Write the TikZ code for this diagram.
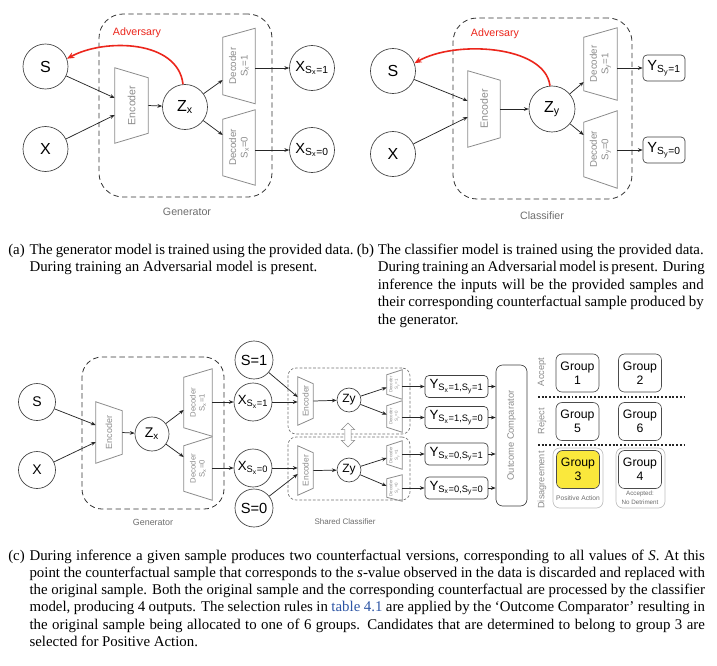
\documentclass[tikz,border=0pt]{standalone}
\usepackage{fontspec}
\setmainfont{Liberation Serif}
\newfontfamily\dfont{Liberation Sans}
\usetikzlibrary{arrows.meta,calc,shapes.arrows}
\definecolor{tgray}{RGB}{140,140,140}
\definecolor{lgray}{RGB}{110,110,110}
\definecolor{gyellow}{RGB}{250,232,60}
\definecolor{linkblue}{RGB}{45,85,165}
\definecolor{advred}{RGB}{236,38,28}
\newcommand{\fsz}[2]{\fontsize{#1}{#2}\selectfont}
% encoder: tall left side, short right side
\newcommand{\enctrap}[8]{%
  \node[inner sep=0pt, minimum width=#4*0.75pt, minimum height=#5*0.75pt] (#1) at (#2,#3) {};
  \draw[trapline] (#1.north west) -- ([yshift={-(#5-#6)*0.375pt}]#1.north east)
     -- ([yshift={(#5-#6)*0.375pt}]#1.south east) -- (#1.south west) -- cycle;
  \node[traptext, font=#7] (#1-t) at (#1.center) {#8};
}
% decoder: short left side, tall right side
\newcommand{\dectrap}[8]{%
  \node[inner sep=0pt, minimum width=#4*0.75pt, minimum height=#5*0.75pt] (#1) at (#2,#3) {};
  \draw[trapline] ([yshift={-(#5-#6)*0.375pt}]#1.north west) -- (#1.north east)
     -- (#1.south east) -- ([yshift={(#5-#6)*0.375pt}]#1.south west) -- cycle;
  \node[traptext, font=#7] (#1-t) at (#1.center) {#8};
}
\tikzset{
  circ/.style={circle, draw=black!75, line width=0.5pt, inner sep=0pt, minimum size=#1*1.5pt, text=black},
  arr/.style={-{Stealth[length=3.6pt,width=2.8pt]}, line width=0.55pt, black!85},
  advarrow/.style={-{Stealth[length=5.5pt,width=4.5pt]}, line width=1.2pt, advred},
  trapline/.style={draw=tgray, line width=0.6pt},
  traptext/.style={rotate=90, text=tgray, align=center, inner sep=0pt},
  bigbox/.style={draw=black!80, line width=0.6pt, dash pattern=on 4pt off 2.6pt, rounded corners=#1, inner sep=0pt},
  clsbox/.style={draw=black!55, line width=0.5pt, dash pattern=on 2pt off 1.4pt, rounded corners=6pt, inner sep=0pt},
  ybox/.style={draw=black!75, line width=0.5pt, rounded corners=3pt, inner sep=0pt},
  gbox/.style={draw=black!70, line width=0.5pt, rounded corners=4.5pt, inner sep=0pt, align=center,
     minimum width=43*0.75pt, minimum height=38*0.75pt, font=\dfont\fsz{9.2}{10.6}},
  obox/.style={draw=black!25, line width=0.5pt, rounded corners=5pt, inner sep=0pt},
  glabel/.style={text=lgray, inner sep=0pt},
  rowlab/.style={rotate=90, text=tgray, inner sep=0pt, font=\dfont\fsz{6.9}{8}},
  capl/.style={anchor=base west, inner sep=0pt, font=\fsz{11.15}{13}},
}
\begin{document}
\begin{tikzpicture}[x=0.75pt,y=-0.75pt]
\useasboundingbox (0,0) rectangle (717,665);
\fill[white] (0,0) rectangle (717,665);

% ================= (a) Generator (training) =================
\node[bigbox=18pt, minimum width=173*0.75pt, minimum height=183*0.75pt] (gen1) at (185.5,105.5) {};
\node[glabel, font=\dfont\fsz{8}{9}] (gen1l) at (187,212) {Generator};
\node[circ=22.5, font=\dfont\fsz{12}{14}] (S1) at (45.5,66.5) {S};
\node[circ=22.5, font=\dfont\fsz{12}{14}] (X1) at (45.5,149) {X};
\enctrap{enc1}{131.5}{105.5}{33}{75}{55}{\dfont\fsz{7.9}{9}}{Encoder}
\node[circ=22.5, font=\dfont\fsz{12}{14}] (Zx1) at (185,107) {Z\textsubscript{x}};
\dectrap{dec1a}{239}{66}{32}{75}{57}{\dfont\fsz{7.3}{8.6}}{Decoder\\S\textsubscript{x}=1}
\dectrap{dec1b}{239}{147.5}{32}{75}{56}{\dfont\fsz{7.3}{8.6}}{Decoder\\S\textsubscript{x}=0}
\node[circ=22.5, font=\dfont\fsz{11}{13}] (Xs1) at (312,68) {X\textsubscript{S\textsubscript{x}=1}};
\node[circ=22.5, font=\dfont\fsz{11}{13}] (Xs0) at (312,150) {X\textsubscript{S\textsubscript{x}=0}};
\draw[arr] (S1) -- ($(enc1.west)+(0,-7.5)$);
\draw[arr] (X1) -- ($(enc1.west)+(0,9.5)$);
\draw[arr] (enc1.east) -- (Zx1);
\draw[arr] (Zx1) -- ($(dec1a.west)+(0,14)$);
\draw[arr] (Zx1) -- ($(dec1b.west)+(0,-12.5)$);
\draw[arr] (dec1a.east|-Xs1) -- (Xs1);
\draw[arr] (dec1b.east|-Xs0) -- (Xs0);
\draw[advarrow] (Zx1.95) .. controls (178,40) and (105,38) .. (S1.20);
\node[text=advred, inner sep=0pt, font=\dfont\fsz{8}{9}] (adv1) at (137,33) {Adversary};

% ================= (b) Classifier (training) =================
\node[bigbox=18pt, minimum width=179*0.75pt, minimum height=181*0.75pt] (cls2) at (542.5,108.5) {};
\node[glabel, font=\dfont\fsz{8}{9}] (cls2l) at (542,216) {Classifier};
\node[circ=22.5, font=\dfont\fsz{12}{14}] (S2) at (393,71) {S};
\node[circ=22.5, font=\dfont\fsz{12}{14}] (X2) at (393,154) {X};
\enctrap{enc2}{484}{109}{32}{76}{57}{\dfont\fsz{7.9}{9}}{Encoder}
\node[circ=23, font=\dfont\fsz{12}{14}] (Zy2) at (552,109) {Z\textsubscript{y}};
\dectrap{dec2a}{600.5}{64}{33}{72}{53}{\dfont\fsz{7.3}{8.6}}{Decoder\\S\textsubscript{y}=1}
\dectrap{dec2b}{600.5}{149.5}{33}{77}{54}{\dfont\fsz{7.3}{8.6}}{Decoder\\S\textsubscript{y}=0}
\node[ybox, minimum width=42*0.75pt, minimum height=26*0.75pt, font=\dfont\fsz{11}{13}] (Ys1) at (664,68) {Y\textsubscript{S\textsubscript{y}=1}};
\node[ybox, minimum width=42*0.75pt, minimum height=26*0.75pt, font=\dfont\fsz{11}{13}] (Ys0) at (664,150) {Y\textsubscript{S\textsubscript{y}=0}};
\draw[arr] (S2) -- ($(enc2.west)+(0,-8)$);
\draw[arr] (X2) -- ($(enc2.west)+(0,8)$);
\draw[arr] (enc2.east) -- (Zy2);
\draw[arr] (Zy2) -- ($(dec2a.west)+(0,18)$);
\draw[arr] (Zy2) -- ($(dec2b.west)+(0,-14.5)$);
\draw[arr] (dec2a.east|-Ys1.west) -- (Ys1.west);
\draw[arr] (dec2b.east|-Ys0.west) -- (Ys0.west);
\draw[advarrow] (Zy2.95) .. controls (545,45) and (455,40) .. (S2.20);
\node[text=advred, inner sep=0pt, font=\dfont\fsz{8}{9}] (adv2) at (495,34) {Adversary};

% ================= captions (a) (b) =================
\node[capl] (ca0) at (8,254) {(a)};
\node[capl] (ca1) at (29.3,254) {\makebox[243pt][s]{The generator model is trained using the provided data.}};
\node[capl] (ca2) at (29.3,271.5) {During training an Adversarial model is present.};
\node[capl] (cb0) at (356.5,254) {(b)};
\node[capl] (cb1) at (377.5,254) {\makebox[244.5pt][s]{The classifier model is trained using the provided data.}};
\node[capl] (cb2) at (377.5,271.5) {\makebox[244.5pt][s]{During training an Adversarial model is present. During}};
\node[capl] (cb3) at (377.5,289) {\makebox[244.5pt][s]{inference the inputs will be the provided samples and}};
\node[capl] (cb4) at (377.5,306.5) {\makebox[244.5pt][s]{their corresponding counterfactual sample produced by}};
\node[capl] (cb5) at (377.5,324) {the generator.};

% ================= (c) inference =================
\node[bigbox=15pt, minimum width=142*0.75pt, minimum height=152*0.75pt] (gen3) at (153,433) {};
\node[glabel, font=\dfont\fsz{6.7}{8}] (gen3l) at (153,522) {Generator};
\node[circ=18.5, font=\dfont\fsz{10.5}{12}] (S3) at (37,402) {S};
\node[circ=18.5, font=\dfont\fsz{10.5}{12}] (X3) at (37,470) {X};
\enctrap{enc3}{109}{432.5}{26}{61}{43}{\dfont\fsz{6.7}{8}}{Encoder}
\node[circ=17, font=\dfont\fsz{10.5}{12}] (Zx3) at (152,434) {Z\textsubscript{x}};
\dectrap{dec3a}{198}{402.5}{28}{67}{50}{\dfont\fsz{5.8}{6.8}}{Decoder\\S\textsubscript{x}=1}
\dectrap{dec3b}{198}{468.5}{28}{63}{45}{\dfont\fsz{5.8}{6.8}}{Decoder\\S\textsubscript{x}=0}
\node[circ=19, font=\dfont\fsz{10}{12}] (X3a) at (253,402) {X\textsubscript{S\textsubscript{x}=1}};
\node[circ=19, font=\dfont\fsz{10}{12}] (X3b) at (253,468) {X\textsubscript{S\textsubscript{x}=0}};
\node[circ=19, font=\dfont\fsz{11}{13}] (S31) at (254,360) {S=1};
\node[circ=19, font=\dfont\fsz{11}{13}] (S30) at (254,508) {S=0};
\draw[arr] (S3) -- ($(enc3.west)+(0,-7.5)$);
\draw[arr] (X3) -- ($(enc3.west)+(0,9.5)$);
\draw[arr] (enc3.east) -- (Zx3);
\draw[arr] (Zx3) -- ($(dec3a.west)+(0,7.5)$);
\draw[arr] (Zx3) -- ($(dec3b.west)+(0,-11.5)$);
\draw[arr] (dec3a.east|-X3a) -- (X3a);
\draw[arr] (dec3b.east|-X3b) -- (X3b);

% shared classifier
\node[clsbox, minimum width=122*0.75pt, minimum height=66*0.75pt] (cbA) at (349,401) {};
\node[clsbox, minimum width=122*0.75pt, minimum height=63*0.75pt] (cbB) at (349,468.5) {};
\node[glabel, font=\dfont\fsz{6}{7}] (cbl) at (345,522) {Shared Classifier};
\node[double arrow, draw=tgray, fill=white, line width=0.5pt, rotate=90, inner sep=2.1pt,
      minimum height=24*0.75pt, double arrow head extend=2.6pt] (swap) at (348,435) {};
\enctrap{encA}{305.5}{401}{15}{48}{34}{\dfont\fsz{6.3}{7}}{Encoder}
\enctrap{encB}{305.5}{470.5}{15}{49}{35}{\dfont\fsz{6.3}{7}}{Encoder}
\node[circ=12, font=\dfont\fsz{9}{10}] (ZyA) at (349,400) {Zy};
\node[circ=12, font=\dfont\fsz{9}{10}] (ZyB) at (349,470) {Zy};
\dectrap{sdA1}{394.5}{384.5}{15}{29}{19}{\dfont\fsz{3.3}{4}}{Decoder\\S\textsubscript{y}=1}
\dectrap{sdA2}{394.5}{416.5}{15}{31}{21}{\dfont\fsz{3.3}{4}}{Decoder\\S\textsubscript{y}=0}
\dectrap{sdB1}{394.5}{455}{15}{28}{18}{\dfont\fsz{3.3}{4}}{Decoder\\S\textsubscript{y}=1}
\dectrap{sdB2}{394.5}{488}{15}{26}{18}{\dfont\fsz{3.3}{4}}{Decoder\\S\textsubscript{y}=0}
\draw[arr] (X3a.east) -- (encA.west|-X3a);
\draw[arr] (S31) -- ($(encA.west)+(0,-4)$);
\draw[arr] (X3b.east) -- (encB.west|-X3b);
\draw[arr] (S30) -- ($(encB.west)+(0,3.5)$);
\draw[arr] (encA.east) -- (ZyA);
\draw[arr] (encB.east) -- (ZyB);
\draw[arr] (ZyA) -- ($(sdA1.west)+(0,3)$);
\draw[arr] (ZyA) -- ($(sdA2.west)+(0,-2)$);
\draw[arr] (ZyB) -- ($(sdB1.west)+(0,3)$);
\draw[arr] (ZyB) -- ($(sdB2.west)+(0,-2)$);

\node[ybox, minimum width=63*0.75pt, minimum height=22*0.75pt, font=\dfont\fsz{10}{12}] (YA1) at (456.5,386.5) {Y\textsubscript{S\textsubscript{x}=1,S\textsubscript{y}=1}};
\node[ybox, minimum width=63*0.75pt, minimum height=22*0.75pt, font=\dfont\fsz{10}{12}] (YA2) at (456.5,417.5) {Y\textsubscript{S\textsubscript{x}=1,S\textsubscript{y}=0}};
\node[ybox, minimum width=63*0.75pt, minimum height=22*0.75pt, font=\dfont\fsz{10}{12}] (YB1) at (456.5,454) {Y\textsubscript{S\textsubscript{x}=0,S\textsubscript{y}=1}};
\node[ybox, minimum width=63*0.75pt, minimum height=22*0.75pt, font=\dfont\fsz{10}{12}] (YB2) at (456.5,488) {Y\textsubscript{S\textsubscript{x}=0,S\textsubscript{y}=0}};
\draw[arr] (sdA1.east|-YA1.west) -- (YA1.west);
\draw[arr] (sdA2.east|-YA2.west) -- (YA2.west);
\draw[arr] (sdB1.east|-YB1.west) -- (YB1.west);
\draw[arr] (sdB2.east|-YB2.west) -- (YB2.west);

\node[ybox, rounded corners=5pt, minimum width=31*0.75pt, minimum height=141*0.75pt] (OC) at (511.5,435.5)
   {\rotatebox{90}{\color{tgray}\dfont\fsz{7}{8}Outcome Comparator}};
\draw[arr] (YA1.east) -- (OC.west|-YA1.east);
\draw[arr] (YA2.east) -- (OC.west|-YA2.east);
\draw[arr] (YB1.east) -- (OC.west|-YB1.east);
\draw[arr] (YB2.east) -- (OC.west|-YB2.east);

% groups
\node[rowlab] (rA) at (542,372) {Accept};
\node[rowlab] (rR) at (542,421) {Reject};
\node[rowlab] (rD) at (542,480) {Disagreement};
\node[obox, minimum width=50*0.75pt, minimum height=60*0.75pt] (O3) at (578,478) {};
\node[obox, minimum width=49*0.75pt, minimum height=60*0.75pt] (O4) at (640.5,478) {};
\node[gbox] (G1) at (577.5,373) {Group\\1};
\node[gbox] (G2) at (640,373) {Group\\2};
\node[gbox] (G5) at (577.5,421.5) {Group\\5};
\node[gbox] (G6) at (640,421.5) {Group\\6};
\node[gbox, fill=gyellow] (G3) at (578,469.5) {Group\\3};
\node[gbox] (G4) at (640,469.5) {Group\\4};
\node[glabel, font=\dfont\fsz{5}{6}] (PA) at (578,498) {Positive Action};
\node[glabel, align=center, font=\dfont\fsz{4.7}{6.6}] (AC) at (640,497.5) {Accepted:\\No Detriment};
\coordinate (d1a) at (538,397); \coordinate (d1b) at (685,397);
\coordinate (d2a) at (538,445); \coordinate (d2b) at (685,445);
\draw[line width=0.8pt, dash pattern=on 1.4pt off 1.4pt, black!85] (d1a) -- (d1b);
\draw[line width=0.8pt, dash pattern=on 1.4pt off 1.4pt, black!85] (d2a) -- (d2b);

% ================= caption (c) =================
\node[capl] (cc0) at (8,560) {(c)};
\node[capl] (cc1) at (29.3,560) {\makebox[506.5pt][s]{During inference a given sample produces two counterfactual versions, corresponding to all values of \textit{S}. At this}};
\node[capl] (cc2) at (29.3,577.3) {\makebox[506.5pt][s]{point the counterfactual sample that corresponds to the \textit{s}-value observed in the data is discarded and replaced with}};
\node[capl] (cc3) at (29.3,594.6) {\makebox[506.5pt][s]{the original sample. Both the original sample and the corresponding counterfactual are processed by the classifier}};
\node[capl] (cc4) at (29.3,611.9) {\makebox[506.5pt][s]{model, producing 4 outputs. The selection rules in \textcolor{linkblue}{table 4.1} are applied by the ‘Outcome Comparator’ resulting in}};
\node[capl] (cc5) at (29.3,629.2) {\makebox[506.5pt][s]{the original sample being allocated to one of 6 groups. Candidates that are determined to belong to group 3 are}};
\node[capl] (cc6) at (29.3,646.5) {selected for Positive Action.};
\end{tikzpicture}
\end{document}
